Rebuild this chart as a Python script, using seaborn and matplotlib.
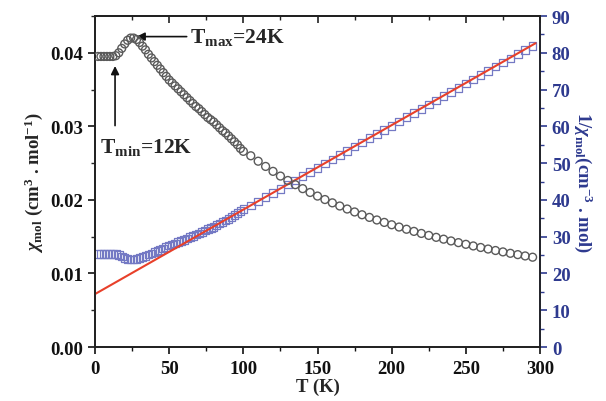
import numpy as np
import pandas as pd
import matplotlib
matplotlib.use("Agg")
import matplotlib.pyplot as plt
import seaborn as sns
from matplotlib.ticker import MultipleLocator

# ---- data ----
T = [2, 4, 6, 8, 10, 12, 14, 16, 18, 20, 22, 24, 26, 28, 30, 32, 34, 36, 38, 40,
     42, 44, 46, 48, 50, 52, 54, 56, 58, 60, 62, 64, 66, 68, 70, 72, 74, 76, 78, 80,
     82, 84, 86, 88, 90, 92, 94, 96, 98, 100,
     105, 110, 115, 120, 125, 130, 135, 140, 145, 150, 155, 160, 165, 170, 175, 180,
     185, 190, 195, 200, 205, 210, 215, 220, 225, 230, 235, 240, 245, 250, 255, 260,
     265, 270, 275, 280, 285, 290, 295]
chi = [0.0395, 0.0395, 0.0395, 0.0395, 0.0395, 0.0395, 0.0396, 0.0400, 0.0406, 0.0412,
       0.0417, 0.0420, 0.0420, 0.0418, 0.0414, 0.0409, 0.0404, 0.0398, 0.0393, 0.0388,
       0.0383, 0.0378, 0.0373, 0.0368, 0.0363, 0.0359, 0.0355, 0.0351, 0.0347, 0.0343,
       0.0339, 0.0335, 0.0331, 0.0327, 0.0324, 0.0320, 0.0316, 0.0312, 0.0309, 0.0306,
       0.0302, 0.0298, 0.0294, 0.0291, 0.0287, 0.0283, 0.0279, 0.0275, 0.0270, 0.0266,
       0.0260, 0.02526, 0.02455, 0.02388, 0.02324, 0.02264, 0.02207, 0.02153, 0.02101,
       0.02052, 0.02005, 0.01960, 0.01917, 0.01876, 0.01836, 0.01798, 0.01762, 0.01727,
       0.01694, 0.01662, 0.01631, 0.01601, 0.01572, 0.01544, 0.01517, 0.01491, 0.01466,
       0.01442, 0.01419, 0.01396, 0.01374, 0.01353, 0.01332, 0.01312, 0.01293, 0.01274,
       0.01256, 0.01238, 0.01221]
fit_T = [0, 297]
fit_inv = [14.4, 82.6]

bottom_ticks = [0, 50, 100, 150, 200, 250, 300]
left_ticks = [0.00, 0.01, 0.02, 0.03, 0.04]
right_ticks = [0, 10, 20, 30, 40, 50, 60, 70, 80, 90]

df = pd.DataFrame({"T": T, "chi": chi})
df["inv"] = 1.0 / df["chi"]
fit = pd.DataFrame({"T": fit_T, "inv": fit_inv})

sns.set_theme(style="ticks")
plt.rcParams["font.family"] = ["Liberation Serif", "DejaVu Serif"]
plt.rcParams["font.weight"] = "bold"
plt.rcParams["mathtext.fontset"] = "custom"
plt.rcParams["mathtext.rm"] = "Liberation Serif:bold"
plt.rcParams["mathtext.it"] = "Liberation Serif:bold:italic"
plt.rcParams["mathtext.bf"] = "Liberation Serif:bold"

blue = "#2e3a8f"
sq_col = "#7479c4"
circ_col = "#5a5a5a"
red = "#e8402a"
FS = 13.5

fig = plt.figure(figsize=(6.06, 4.02), dpi=100)
ax = fig.add_axes([0.1568, 0.1343, 0.7343, 0.8234])
ax2 = ax.twinx()

sns.scatterplot(data=df, x="T", y="inv", ax=ax2, marker="s", s=30,
                facecolor="none", edgecolor=sq_col, linewidth=0.9, zorder=2)
sns.lineplot(data=fit, x="T", y="inv", ax=ax2, color=red, linewidth=1.5, zorder=3)
sns.scatterplot(data=df, x="T", y="chi", ax=ax, marker="o", s=32,
                facecolor="none", edgecolor=circ_col, linewidth=1.0, zorder=4)
ax.set_zorder(ax2.get_zorder() + 1)
ax.patch.set_visible(False)

ax.set_xlim(0, 300)
ax.set_ylim(0, 0.045)
ax2.set_ylim(0, 90)
ax.set_xticks(bottom_ticks)
ax.set_xticklabels([str(v) for v in bottom_ticks])
ax.set_yticks(left_ticks)
ax.set_yticklabels([f"{v:.2f}" for v in left_ticks])
ax2.set_yticks(right_ticks)
ax2.set_yticklabels([str(v) for v in right_ticks])
ax.xaxis.set_minor_locator(MultipleLocator(25))
ax.yaxis.set_minor_locator(MultipleLocator(0.005))
ax2.yaxis.set_minor_locator(MultipleLocator(5))

for a in (ax, ax2):
    for s in a.spines.values():
        s.set_visible(True)
        s.set_linewidth(1.3)
        s.set_color("#222222")
ax2.spines["right"].set_color(blue)

ax.tick_params(axis="x", which="both", direction="out", top=False, labelsize=FS,
               colors="#111111", pad=4)
ax.tick_params(axis="x", which="major", length=5, width=1.2)
ax.tick_params(axis="x", which="minor", length=3, width=1.0)
ax.tick_params(axis="y", which="major", direction="out", length=5, width=1.2,
               labelsize=FS, colors="#111111")
ax.tick_params(axis="y", which="minor", direction="out", length=3, width=1.0)
ax2.tick_params(axis="y", which="major", direction="out", length=5, width=1.2,
                labelsize=FS, colors=blue)
ax2.tick_params(axis="y", which="minor", direction="out", length=3, width=1.0,
                colors=blue)
# top ticks inward
secx = ax.secondary_xaxis("top")
secx.set_xticks(bottom_ticks)
secx.xaxis.set_minor_locator(MultipleLocator(25))
secx.tick_params(which="both", direction="in", labeltop=False, colors="#222222")
secx.tick_params(which="major", length=5, width=1.2)
secx.tick_params(which="minor", length=3, width=1.0)
secx.spines["top"].set_linewidth(1.3)

ax.set_xlabel("T (K)", fontsize=FS, fontweight="bold", labelpad=1)
ax.set_ylabel(r"$\chi_{\rm mol}$ (cm$^{3}$ . mol$^{-1}$)", fontsize=FS,
              fontweight="bold", labelpad=4)
ax2.set_ylabel(r"1/$\chi_{\rm mol}$(cm$^{-3}$ . mol)", fontsize=FS,
               fontweight="bold", color=blue, rotation=270, labelpad=17)

ax.annotate(r"T$_{\rm max}$=24K", xy=(28, 0.0422), xytext=(64, 0.0422),
            fontsize=15.5, fontweight="bold", va="center", ha="left",
            arrowprops=dict(arrowstyle="-|>", color="#111111", lw=1.2,
                            mutation_scale=12, shrinkA=0, shrinkB=0))
ax.annotate("", xy=(13.5, 0.0382), xytext=(13.5, 0.0301),
            arrowprops=dict(arrowstyle="-|>", color="#111111", lw=1.2,
                            mutation_scale=12, shrinkA=0, shrinkB=0))
ax.text(3.5, 0.0272, r"T$_{\rm min}$=12K", fontsize=15.5, fontweight="bold",
        va="center", ha="left")

fig.savefig("out.png", dpi=100)
